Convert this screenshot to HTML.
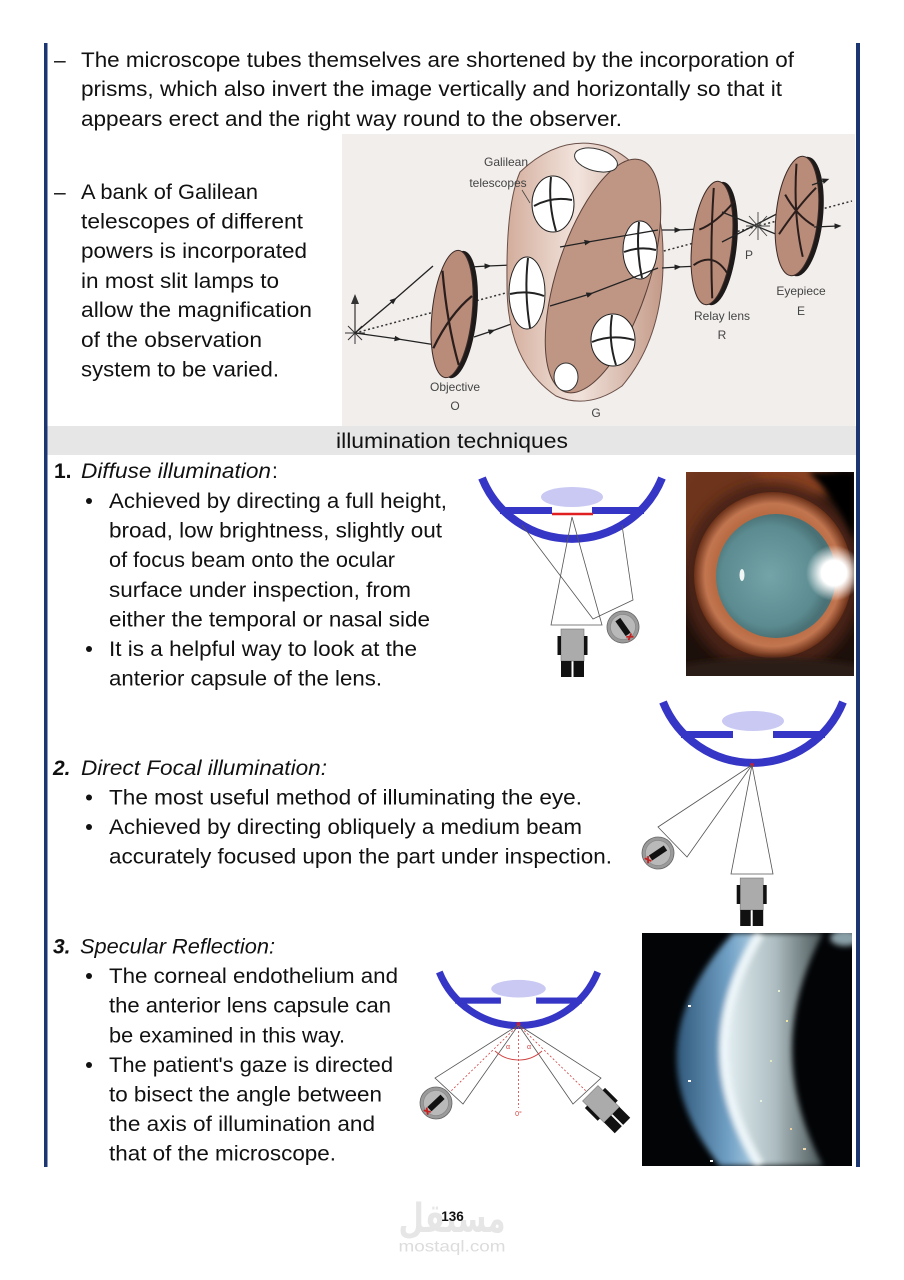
<!DOCTYPE html>
<html>
<head>
<meta charset="utf-8">
<style>
html,body{margin:0;padding:0;background:#fff;}
svg{display:block;}
.t{font-family:"Liberation Sans",sans-serif;font-size:21px;fill:#111;}
.i{font-style:italic;}
.b{font-weight:bold;}
.lb{font-family:"Liberation Sans Narrow","Liberation Sans",sans-serif;font-size:12px;fill:#444;text-anchor:middle;}
</style>
</head>
<body>
<svg width="904" height="1280" viewBox="0 0 904 1280" xmlns="http://www.w3.org/2000/svg">
<defs>
  <marker id="ah" viewBox="0 0 10 10" refX="5" refY="5" markerWidth="7" markerHeight="7" orient="auto" markerUnits="userSpaceOnUse">
    <path d="M0,1 L10,5 L0,9 z" fill="#222"/>
  </marker>
  <linearGradient id="drum" x1="0" y1="0" x2="1" y2="0">
    <stop offset="0" stop-color="#d3ad9c"/>
    <stop offset="0.45" stop-color="#f2e4dd"/>
    <stop offset="1" stop-color="#c49a88"/>
  </linearGradient>
  <radialGradient id="irisG" cx="0.5" cy="0.5" r="0.5">
    <stop offset="0.68" stop-color="#b4663c"/>
    <stop offset="0.86" stop-color="#c27650"/>
    <stop offset="1" stop-color="#6a3018"/>
  </radialGradient>
  <radialGradient id="pupG" cx="0.45" cy="0.5" r="0.5">
    <stop offset="0" stop-color="#74a3a8"/>
    <stop offset="0.8" stop-color="#5c8c91"/>
    <stop offset="1" stop-color="#4a7276"/>
  </radialGradient>
  <radialGradient id="flash" cx="0.5" cy="0.5" r="0.5">
    <stop offset="0" stop-color="#ffffff"/>
    <stop offset="0.45" stop-color="#ffffff"/>
    <stop offset="1" stop-color="#ffffff" stop-opacity="0"/>
  </radialGradient>
  <linearGradient id="blueband" x1="0" y1="0" x2="1" y2="0">
    <stop offset="0" stop-color="#30587a"/>
    <stop offset="0.6" stop-color="#6f9fc4"/>
    <stop offset="1" stop-color="#b8d6e8"/>
  </linearGradient>
  <linearGradient id="greyband" x1="0" y1="0" x2="1" y2="0">
    <stop offset="0" stop-color="#e2eef2"/>
    <stop offset="0.5" stop-color="#aebec2"/>
    <stop offset="1" stop-color="#4a5658"/>
  </linearGradient>
  <filter id="bl3" x="-20%" y="-20%" width="140%" height="140%"><feGaussianBlur stdDeviation="3"/></filter>
  <filter id="bl6" x="-30%" y="-30%" width="160%" height="160%"><feGaussianBlur stdDeviation="6"/></filter>
  <clipPath id="c1"><rect x="686" y="472" width="168" height="204"/></clipPath>
  <clipPath id="c3"><rect x="642" y="933" width="210" height="233"/></clipPath>
  <clipPath id="ctop"><rect x="342" y="134" width="513" height="292"/></clipPath>

  <g id="eye">
    <ellipse cx="0" cy="19" rx="31" ry="10" fill="#c9c9f3"/>
    <path d="M-90,0 A97,97 0 0 0 90,0" fill="none" stroke="#3535c6" stroke-width="8"/>
    <rect x="-72" y="29" width="52" height="7" fill="#3535c6"/>
    <rect x="20" y="29" width="52" height="7" fill="#3535c6"/>
  </g>
  <g id="mic">
    <rect x="-11.5" y="-16" width="23" height="32" fill="#ababab" stroke="#777" stroke-width="0.6"/>
    <rect x="-15" y="-9" width="3.5" height="19" fill="#111"/>
    <rect x="11.5" y="-9" width="3.5" height="19" fill="#111"/>
    <rect x="-11.5" y="16" width="10.5" height="16" fill="#111"/>
    <rect x="1" y="16" width="10.5" height="16" fill="#111"/>
  </g>
  <g id="lamp">
    <circle cx="0" cy="0" r="16" fill="#9a9a9a" stroke="#666" stroke-width="0.8"/>
    <circle cx="0" cy="0" r="12.5" fill="#b9b9b9" stroke="#858585" stroke-width="0.6"/>
    <rect x="-3" y="-9" width="6" height="18" fill="#111"/>
    <path d="M-3,10 L3,14 M3,10 L-3,14" stroke="#c42020" stroke-width="1.8"/>
  </g>
</defs>

<!-- side bars -->
<rect x="44" y="43" width="3.5" height="1124" fill="#1c3672"/>
<rect x="856" y="43" width="4" height="1124" fill="#1c3672"/>

<!-- top paragraph -->
<text class="t" x="54" y="67">–</text>
<text class="t" x="81" y="67" textLength="713" lengthAdjust="spacingAndGlyphs">The microscope tubes themselves are shortened by the incorporation of</text>
<text class="t" x="81" y="96" textLength="701" lengthAdjust="spacingAndGlyphs">prisms, which also invert the image vertically and horizontally so that it</text>
<text class="t" x="81" y="126" textLength="541" lengthAdjust="spacingAndGlyphs">appears erect and the right way round to the observer.</text>

<text class="t" x="54" y="199">–</text>
<text class="t" x="81" y="199" textLength="177" lengthAdjust="spacingAndGlyphs">A bank of Galilean</text>
<text class="t" x="81" y="228.5" textLength="222" lengthAdjust="spacingAndGlyphs">telescopes of different</text>
<text class="t" x="81" y="258" textLength="226" lengthAdjust="spacingAndGlyphs">powers is incorporated</text>
<text class="t" x="81" y="288" textLength="198" lengthAdjust="spacingAndGlyphs">in most slit lamps to</text>
<text class="t" x="81" y="317" textLength="231" lengthAdjust="spacingAndGlyphs">allow the magnification</text>
<text class="t" x="81" y="347" textLength="181" lengthAdjust="spacingAndGlyphs">of the observation</text>
<text class="t" x="81" y="376.5" textLength="198" lengthAdjust="spacingAndGlyphs">system to be varied.</text>

<!-- top optical diagram -->
<g clip-path="url(#ctop)">
  <rect x="342" y="134" width="513" height="292" fill="#f2eeec"/>
  <!-- dotted axis -->
  <line x1="355" y1="333" x2="852" y2="201" stroke="#333" stroke-width="1.5" stroke-dasharray="2,2.5"/>
  <!-- object star -->
  <g stroke="#333" stroke-width="1">
    <line x1="345" y1="333" x2="365" y2="333"/>
    <line x1="355" y1="322" x2="355" y2="344"/>
    <line x1="348" y1="326" x2="362" y2="340"/>
    <line x1="348" y1="340" x2="362" y2="326"/>
  </g>
  <line x1="355" y1="333" x2="355" y2="300" stroke="#333" stroke-width="1.2"/>
  <path d="M351,304 L355,294 L359,304 z" fill="#333"/>
  <!-- rays to objective -->
  <polyline points="355,333 394,300 433,266" fill="none" stroke="#222" stroke-width="1.3" marker-mid="url(#ah)"/>
  <polyline points="355,333 398,339 436,345" fill="none" stroke="#222" stroke-width="1.3" marker-mid="url(#ah)"/>
  <!-- objective lens -->
  <g transform="translate(452,314) rotate(6)">
    <ellipse cx="5" cy="0" rx="20" ry="64" fill="#1e1a1a"/>
    <ellipse cx="0" cy="0" rx="20" ry="64" fill="#b98b79" stroke="#3a2a26" stroke-width="1"/>
    <path d="M-14,-42 Q-4,10 12,50" stroke="#2a1e1c" stroke-width="2.2" fill="none"/>
    <path d="M-15,36 Q-2,0 18,-20" stroke="#2a1e1c" stroke-width="2.2" fill="none"/>
  </g>
  <!-- rays objective -> drum -->
  <polyline points="470,267 488,266 512,265" fill="none" stroke="#222" stroke-width="1.3" marker-mid="url(#ah)"/>
  <polyline points="474,337 492,331 514,323" fill="none" stroke="#222" stroke-width="1.3" marker-mid="url(#ah)"/>
  <!-- drum -->
  <path d="M520,172 Q560,134 604,146 Q652,162 662,232 Q670,330 622,386 Q588,410 556,396 Q506,362 507,282 Q506,204 520,172 Z" fill="url(#drum)" stroke="#6a5048" stroke-width="1"/>
  <ellipse cx="603" cy="276" rx="46" ry="122" transform="rotate(18 603 276)" fill="#bf9584" stroke="#5a4038" stroke-width="1"/>
  <!-- holes -->
  <ellipse cx="596" cy="160" rx="22" ry="11" transform="rotate(15 596 160)" fill="#fff" stroke="#333" stroke-width="1"/>
  <g stroke="#222" stroke-width="2" fill="none">
    <ellipse cx="553" cy="204" rx="21" ry="28" fill="#fff" stroke-width="1"/>
    <path d="M534,206 Q552,196 572,200"/><path d="M551,177 Q548,204 556,231"/>
    <ellipse cx="527" cy="293" rx="18" ry="36" fill="#fff" stroke-width="1"/>
    <path d="M510,294 Q528,290 544,296"/><path d="M528,258 Q524,292 530,328"/>
    <ellipse cx="640" cy="250" rx="17" ry="29" fill="#fff" stroke-width="1"/>
    <path d="M624,252 Q640,246 656,250"/><path d="M639,222 Q636,250 642,278"/>
    <ellipse cx="613" cy="340" rx="22" ry="26" fill="#fff" stroke-width="1"/>
    <path d="M592,342 Q612,334 634,340"/><path d="M612,315 Q608,340 616,365"/>
  </g>
  <ellipse cx="566" cy="377" rx="12" ry="14" fill="#fff" stroke="#333" stroke-width="1"/>
  <!-- rays inside drum -->
  <polyline points="560,247 588,242 658,230" fill="none" stroke="#222" stroke-width="1.3" marker-mid="url(#ah)"/>
  <polyline points="550,306 590,294 658,268" fill="none" stroke="#222" stroke-width="1.3" marker-mid="url(#ah)"/>
  <!-- after drum -->
  <polyline points="662,230 678,230 700,229" fill="none" stroke="#222" stroke-width="1.3" marker-mid="url(#ah)"/>
  <polyline points="662,268 678,267 700,266" fill="none" stroke="#222" stroke-width="1.3" marker-mid="url(#ah)"/>
  <!-- relay lens -->
  <g transform="translate(712,243) rotate(6)">
    <ellipse cx="5" cy="0" rx="20" ry="62" fill="#1e1a1a"/>
    <ellipse cx="0" cy="0" rx="20" ry="62" fill="#b98b79" stroke="#3a2a26" stroke-width="1"/>
    <path d="M-14,-12 Q2,-20 18,-44" stroke="#2a1e1c" stroke-width="2" fill="none"/>
    <path d="M-16,24 Q2,8 18,28" stroke="#2a1e1c" stroke-width="2" fill="none"/>
    <path d="M-4,-55 Q-2,0 6,55" stroke="#2a1e1c" stroke-width="2" fill="none"/>
  </g>
  <!-- crossing at P -->
  <line x1="722" y1="212" x2="800" y2="244" stroke="#222" stroke-width="1.3"/>
  <line x1="722" y1="242" x2="800" y2="202" stroke="#222" stroke-width="1.3"/>
  <g stroke="#444" stroke-width="0.9">
    <line x1="746" y1="226" x2="770" y2="226"/>
    <line x1="758" y1="212" x2="758" y2="240"/>
    <line x1="749" y1="216" x2="767" y2="236"/>
    <line x1="749" y1="236" x2="767" y2="216"/>
  </g>
  <!-- eyepiece -->
  <g transform="translate(797,216) rotate(6)">
    <ellipse cx="5" cy="0" rx="21" ry="60" fill="#1e1a1a"/>
    <ellipse cx="0" cy="0" rx="21" ry="60" fill="#b98b79" stroke="#3a2a26" stroke-width="1"/>
    <path d="M-16,20 Q0,-10 16,-30" stroke="#2a1e1c" stroke-width="2" fill="none"/>
    <path d="M-6,-52 Q-4,0 10,40" stroke="#2a1e1c" stroke-width="2" fill="none"/>
    <path d="M-14,-20 Q0,0 18,8" stroke="#2a1e1c" stroke-width="2" fill="none"/>
  </g>
  <line x1="812" y1="185" x2="826" y2="180" stroke="#222" stroke-width="1.3" marker-end="url(#ah)"/>
  <line x1="814" y1="227" x2="838" y2="226" stroke="#222" stroke-width="1.3" marker-end="url(#ah)"/>
  <!-- labels -->
  <text class="lb" x="506" y="166">Galilean</text>
  <text class="lb" x="498" y="187">telescopes</text>
  <line x1="522" y1="190" x2="530" y2="203" stroke="#444" stroke-width="0.8"/>
  <text class="lb" x="455" y="391">Objective</text>
  <text class="lb" x="455" y="410">O</text>
  <text class="lb" x="596" y="417">G</text>
  <text class="lb" x="722" y="320">Relay lens</text>
  <text class="lb" x="722" y="339">R</text>
  <text class="lb" x="749" y="259">P</text>
  <text class="lb" x="801" y="295">Eyepiece</text>
  <text class="lb" x="801" y="315">E</text>
</g>

<!-- header band -->
<rect x="47.5" y="426" width="808.5" height="29" fill="#e6e6e6"/>
<text class="t" x="336" y="448" textLength="232" lengthAdjust="spacingAndGlyphs">illumination techniques</text>

<!-- Section 1 -->
<text class="t b" x="54" y="478">1.</text>
<text class="t i" x="81" y="478" textLength="190" lengthAdjust="spacingAndGlyphs">Diffuse illumination</text>
<text class="t" x="272" y="478">:</text>
<circle cx="89" cy="501" r="3" fill="#111"/>
<text class="t" x="109" y="508" textLength="338" lengthAdjust="spacingAndGlyphs">Achieved by directing a full height,</text>
<text class="t" x="109" y="537.5" textLength="333" lengthAdjust="spacingAndGlyphs">broad, low brightness, slightly out</text>
<text class="t" x="109" y="567" textLength="286" lengthAdjust="spacingAndGlyphs">of focus beam onto the ocular</text>
<text class="t" x="109" y="597" textLength="302" lengthAdjust="spacingAndGlyphs">surface under inspection, from</text>
<text class="t" x="109" y="626.5" textLength="321" lengthAdjust="spacingAndGlyphs">either the temporal or nasal side</text>
<circle cx="89" cy="649" r="3" fill="#111"/>
<text class="t" x="109" y="656" textLength="308" lengthAdjust="spacingAndGlyphs">It is a helpful way to look at the</text>
<text class="t" x="109" y="685.5" textLength="273" lengthAdjust="spacingAndGlyphs">anterior capsule of the lens.</text>

<!-- Diagram 1 -->
<g transform="translate(572,478)"><use href="#eye"/></g>
<line x1="552" y1="514" x2="593" y2="514" stroke="#e02020" stroke-width="2.5"/>
<polygon points="572,517 551,625 602,625" fill="none" stroke="#555" stroke-width="0.8"/>
<polyline points="522,525 593,619 633,600 622,525" fill="none" stroke="#555" stroke-width="0.8"/>
<g transform="translate(572.5,645)"><use href="#mic"/></g>
<g transform="translate(623,627) rotate(-35)"><use href="#lamp"/></g>

<!-- Photo 1 -->
<g clip-path="url(#c1)">
  <rect x="686" y="472" width="168" height="204" fill="#1c100b"/>
  <ellipse cx="735" cy="482" rx="100" ry="30" fill="#8a4222" filter="url(#bl6)"/>
  <ellipse cx="720" cy="520" rx="50" ry="70" fill="#6e341c" filter="url(#bl6)"/>
  <ellipse cx="772" cy="578" rx="90" ry="96" fill="#4a2414" filter="url(#bl6)"/>
  <ellipse cx="773" cy="575" rx="79" ry="83" fill="url(#irisG)"/>
  <ellipse cx="776" cy="576" rx="60" ry="62" fill="url(#pupG)"/>
  <path d="M808,472 L854,472 L854,540 Q835,495 808,472 Z" fill="#050303" filter="url(#bl3)"/>
  <ellipse cx="770" cy="672" rx="100" ry="14" fill="#2a1a16" filter="url(#bl3)"/>
  <circle cx="834" cy="573" r="28" fill="url(#flash)"/>
  <ellipse cx="742" cy="575" rx="2.5" ry="6" fill="#fff" opacity="0.9"/>
</g>

<!-- Diagram 2 -->
<g transform="translate(753,702)"><use href="#eye"/></g>
<circle cx="752" cy="765" r="2" fill="#c02040"/>
<polygon points="752,765 731,874 773,874" fill="none" stroke="#555" stroke-width="0.8"/>
<polygon points="752,765 658,827 687,857" fill="none" stroke="#555" stroke-width="0.8"/>
<g transform="translate(751.7,894)"><use href="#mic"/></g>
<g transform="translate(658,853) rotate(56)"><use href="#lamp"/></g>

<!-- Section 2 -->
<text class="t b i" x="53" y="775">2.</text>
<text class="t i" x="81" y="775" textLength="246" lengthAdjust="spacingAndGlyphs">Direct Focal illumination:</text>
<circle cx="89" cy="797.5" r="3" fill="#111"/>
<text class="t" x="109" y="804.5" textLength="473" lengthAdjust="spacingAndGlyphs">The most useful method of illuminating the eye.</text>
<circle cx="89" cy="827" r="3" fill="#111"/>
<text class="t" x="109" y="834" textLength="473" lengthAdjust="spacingAndGlyphs">Achieved by directing obliquely a medium beam</text>
<text class="t" x="109" y="863.5" textLength="503" lengthAdjust="spacingAndGlyphs">accurately focused upon the part under inspection.</text>

<!-- Section 3 -->
<text class="t b i" x="53" y="953.5">3.</text>
<text class="t i" x="80" y="953.5" textLength="195" lengthAdjust="spacingAndGlyphs">Specular Reflection:</text>
<circle cx="89" cy="976" r="3" fill="#111"/>
<text class="t" x="109" y="983" textLength="289" lengthAdjust="spacingAndGlyphs">The corneal endothelium and</text>
<text class="t" x="109" y="1012.7" textLength="282" lengthAdjust="spacingAndGlyphs">the anterior lens capsule can</text>
<text class="t" x="109" y="1042.3" textLength="236" lengthAdjust="spacingAndGlyphs">be examined in this way.</text>
<circle cx="89" cy="1065" r="3" fill="#111"/>
<text class="t" x="109" y="1072" textLength="284" lengthAdjust="spacingAndGlyphs">The patient's gaze is directed</text>
<text class="t" x="109" y="1101.5" textLength="273" lengthAdjust="spacingAndGlyphs">to bisect the angle between</text>
<text class="t" x="109" y="1131" textLength="266" lengthAdjust="spacingAndGlyphs">the axis of illumination and</text>
<text class="t" x="109" y="1160.7" textLength="227" lengthAdjust="spacingAndGlyphs">that of the microscope.</text>

<!-- Diagram 3 -->
<g transform="translate(518.5,972) scale(0.88)"><use href="#eye"/></g>
<circle cx="518.5" cy="1024" r="2" fill="#c02040"/>
<polygon points="518.5,1025 435,1078 463,1104" fill="none" stroke="#555" stroke-width="0.8"/>
<polygon points="518.5,1025 573,1104 601,1078" fill="none" stroke="#555" stroke-width="0.8"/>
<g stroke="#d04040" stroke-width="0.8" stroke-dasharray="2,2" fill="none">
  <line x1="518.5" y1="1027" x2="518.5" y2="1108"/>
  <line x1="518.5" y1="1025" x2="450" y2="1092"/>
  <line x1="518.5" y1="1025" x2="587" y2="1092"/>
</g>
<path d="M495,1051 A35,35 0 0 0 542,1051" fill="none" stroke="#d04040" stroke-width="0.9"/>
<text x="508" y="1049" font-family="Liberation Sans, sans-serif" font-size="7" fill="#d04040" text-anchor="middle">α</text>
<text x="529" y="1049" font-family="Liberation Sans, sans-serif" font-size="7" fill="#d04040" text-anchor="middle">α</text>
<text x="518.5" y="1116" font-family="Liberation Sans, sans-serif" font-size="7" fill="#d04040" text-anchor="middle">0°</text>
<g transform="translate(601,1104) rotate(-45) scale(0.95)"><use href="#mic"/></g>
<g transform="translate(436,1103) rotate(47)"><use href="#lamp"/></g>

<!-- Photo 3 -->
<g clip-path="url(#c3)">
  <rect x="642" y="933" width="210" height="233" fill="#020406"/>
  <g filter="url(#bl3)">
    <path d="M733,933 Q627,1050 720,1166 L762,1166 Q690,1050 762,933 Z" fill="url(#blueband)"/>
    <path d="M762,933 Q690,1050 762,1166 L823,1166 Q761,1050 823,933 Z" fill="url(#greyband)"/>
    <path d="M760,933 Q688,1050 760,1166" fill="none" stroke="#eef7fa" stroke-width="9"/>
    <ellipse cx="845" cy="938" rx="15" ry="8" fill="#8aa0a8"/>
  </g>
  <g fill="#fff">
    <rect x="688" y="1005" width="3" height="2"/>
    <rect x="688" y="1080" width="3" height="2"/>
    <rect x="710" y="1160" width="3" height="2"/>
    <rect x="786" y="1020" width="2" height="2" fill="#f0e8a0"/>
    <rect x="790" y="1128" width="2" height="2" fill="#f0d0a0"/>
    <rect x="803" y="1148" width="3" height="2" fill="#f0d8b0"/>
    <rect x="770" y="1060" width="2" height="2" fill="#e0e8c0"/>
    <rect x="778" y="990" width="2" height="2" fill="#e8f0d0"/>
    <rect x="760" y="1100" width="2" height="2" fill="#e8f0e0"/>
  </g>
</g>

<!-- page number and watermark -->
<text x="452" y="1232" font-family="DejaVu Sans, sans-serif" font-size="40" font-weight="bold" fill="#e6e6e6" text-anchor="middle" textLength="107" lengthAdjust="spacingAndGlyphs">مستقل</text>
<text x="452" y="1251.5" font-family="Liberation Sans, sans-serif" font-size="16" fill="#dcdcdc" text-anchor="middle" textLength="107" lengthAdjust="spacingAndGlyphs">mostaql.com</text>
<text x="452.5" y="1221" font-family="Liberation Sans, sans-serif" font-size="13.5" font-weight="bold" fill="#111" text-anchor="middle">136</text>
</svg>
</body>
</html>
